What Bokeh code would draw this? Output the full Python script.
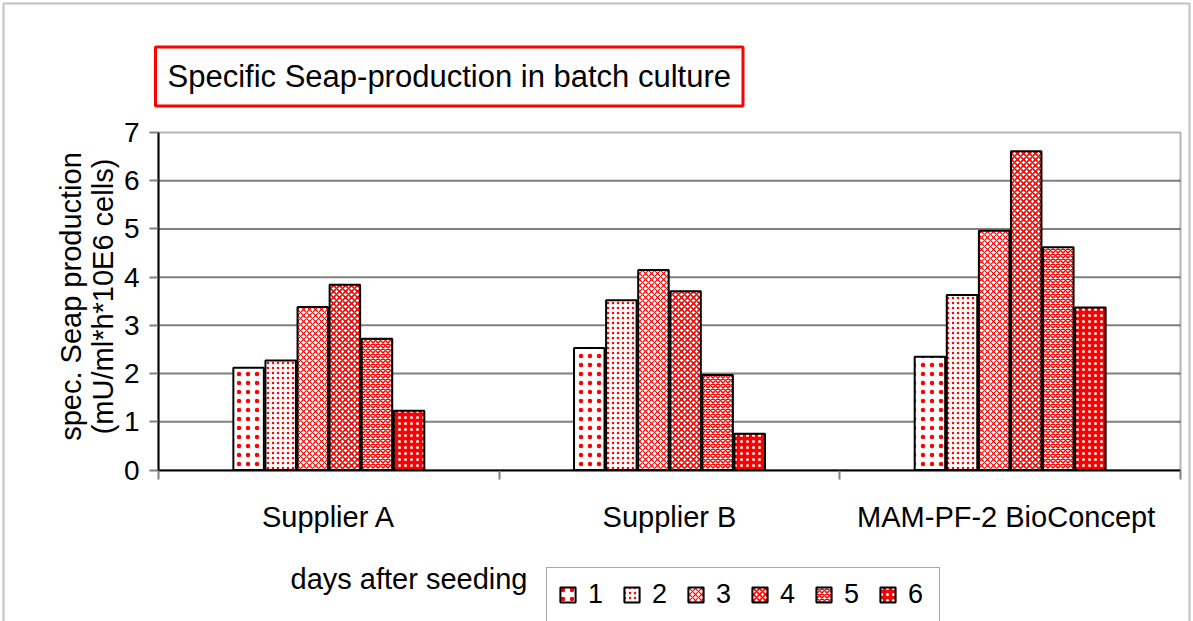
import numpy as np
from bokeh.plotting import figure
from bokeh.models import (ColumnDataSource, Range1d, FixedTicker, Label, Legend,
                          LegendItem, BoxAnnotation, LinearAxis)
from bokeh.embed import file_html
from bokeh.resources import INLINE

# ---- data ----
categories = ["Supplier A", "Supplier B", "MAM-PF-2  BioConcept"]
days = ["1", "2", "3", "4", "5", "6"]
day1 = [2.12, 2.53, 2.35]
day2 = [2.27, 3.52, 3.63]
day3 = [3.38, 4.15, 4.96]
day4 = [3.84, 3.71, 6.61]
day5 = [2.72, 1.97, 4.62]
day6 = [1.23, 0.75, 3.37]
series = [day1, day2, day3, day4, day5, day6]
y_ticks = [0, 1, 2, 3, 4, 5, 6, 7]

FONT = "Liberation Sans"
RED = "#ff0000"

# ---- layout (pixels) ----
W, H = 1193, 621
PL, PR, PT, PB = 158, 1180, 132, 469.5      # plot-area edges
ncat, ymax = len(categories), 7
sx = (PR - PL) / ncat
sy = (PB - PT) / ymax
x_range = Range1d(-PL / sx, ncat + (W - PR) / sx)
y_range = Range1d(-(H - PB) / sy, ymax + PT / sy)

p = figure(width=W, height=H, output_backend="svg", toolbar_location=None,
           x_range=x_range, y_range=y_range, x_axis_location=None,
           y_axis_location=None, min_border=0)
p.background_fill_color = "white"
p.border_fill_color = "white"
p.outline_line_color = None
p.xgrid.visible = False
p.ygrid.visible = False

# horizontal grid lines inside the plot area
grid_y = y_ticks[1:-1]
p.segment(x0=[0] * len(grid_y), x1=[ncat] * len(grid_y), y0=grid_y, y1=grid_y,
          line_color="#808080", line_width=2)

# plot-area outline
p.add_layout(BoxAnnotation(left=0, right=ncat, bottom=0, top=ymax,
                           fill_color=None, line_color="black", line_width=2,
                           level="overlay"))

# y axis
ya = LinearAxis(fixed_location=0, bounds=(0, ymax),
                ticker=FixedTicker(ticks=y_ticks, minor_ticks=[]))
ya.axis_line_color = "black"
ya.axis_line_width = 2
ya.major_tick_out = 9
ya.major_tick_in = 0
ya.major_tick_line_color = "#808080"
ya.major_tick_line_width = 2
ya.minor_tick_line_color = None
ya.major_label_standoff = 10
ya.major_label_text_font = FONT
ya.major_label_text_font_size = "28px"
ya.major_label_text_color = "black"
p.add_layout(ya, "left")

# x axis: labels at category centres, ticks at category borders
centres = [i + 0.5 for i in range(ncat)]
borders = [float(i) for i in range(ncat + 1)]
xa = LinearAxis(fixed_location=0, bounds=(0, ncat),
                ticker=FixedTicker(ticks=centres, minor_ticks=borders))
xa.major_label_overrides = {c: name for c, name in zip(centres, categories)}
xa.axis_line_color = "black"
xa.axis_line_width = 2
xa.major_tick_line_color = None
xa.major_tick_out = 0
xa.major_tick_in = 0
xa.minor_tick_out = 9
xa.minor_tick_in = 0
xa.minor_tick_line_color = "#808080"
xa.minor_tick_line_width = 2
xa.major_label_standoff = 22
xa.major_label_text_font = FONT
xa.major_label_text_font_size = "29px"
xa.major_label_text_color = "black"
p.add_layout(xa, "below")

# bars
step = 0.0942
width = 0.0895
styles = [
    dict(fill_color="white", hatch_color=RED, hatch_pattern="dot", hatch_scale=9, hatch_weight=2),
    dict(fill_color="white", hatch_color=RED, hatch_pattern="dot", hatch_scale=5, hatch_weight=2),
    dict(fill_color="white", hatch_color=RED, hatch_pattern="diagonal_cross", hatch_scale=6, hatch_weight=1.2),
    dict(fill_color="white", hatch_color=RED, hatch_pattern="diagonal_cross", hatch_scale=6, hatch_weight=1.6),
    dict(fill_color="white", hatch_color=RED, hatch_pattern="diagonal_cross", hatch_scale=5, hatch_weight=1.5),
    dict(fill_color=RED, hatch_color="white", hatch_pattern="dot", hatch_scale=6, hatch_weight=2),
]
idx = np.arange(ncat)
items = []
for j, (vals, st) in enumerate(zip(series, styles)):
    src = ColumnDataSource(dict(x=idx + 0.5 + (j - 2.5) * step, top=vals))
    r = p.vbar(x="x", top="top", bottom=0, width=width, source=src,
               line_color="black", line_width=2, **st)
    items.append(LegendItem(label=days[j], renderers=[r]))

legend = Legend(items=items, orientation="horizontal", location=(546, H - 568 - 54),
                border_line_color="#555555", border_line_width=1.5,
                background_fill_color="white", padding=11, spacing=14,
                label_standoff=11, glyph_width=19, glyph_height=19, margin=0,
                label_text_font=FONT, label_text_font_size="27px",
                label_text_color="black")
p.add_layout(legend)

# title box
p.add_layout(Label(x=155, y=H - 76, x_units="screen", y_units="screen",
                   text="Specific Seap-production in batch culture",
                   text_font=FONT, text_font_size="31px", text_color="black",
                   text_align="left", text_baseline="middle",
                   border_line_color=RED, border_line_width=3,
                   background_fill_color="white", padding=12))

# y axis title (two lines)
for xx, txt in [(70, "spec. Seap production"), (102, "(mU/ml*h*10E6 cells)")]:
    p.add_layout(Label(x=xx, y=H - 296, x_units="screen", y_units="screen", text=txt,
                       angle=np.pi / 2, text_font=FONT, text_font_size="29px",
                       text_color="black", text_align="center",
                       text_baseline="middle"))

# legend caption
p.add_layout(Label(x=290, y=H - 578, x_units="screen", y_units="screen",
                   text="days after seeding", text_font=FONT,
                   text_font_size="29px", text_color="black",
                   text_align="left", text_baseline="middle"))

# outer chart border
p.add_layout(BoxAnnotation(left=3, right=1189, top=H - 3, bottom=-40,
                           left_units="screen", right_units="screen",
                           top_units="screen", bottom_units="screen",
                           fill_color=None, line_color="#333333", line_width=2,
                           level="underlay"))

open("out.html", "w").write(file_html(p, INLINE))
